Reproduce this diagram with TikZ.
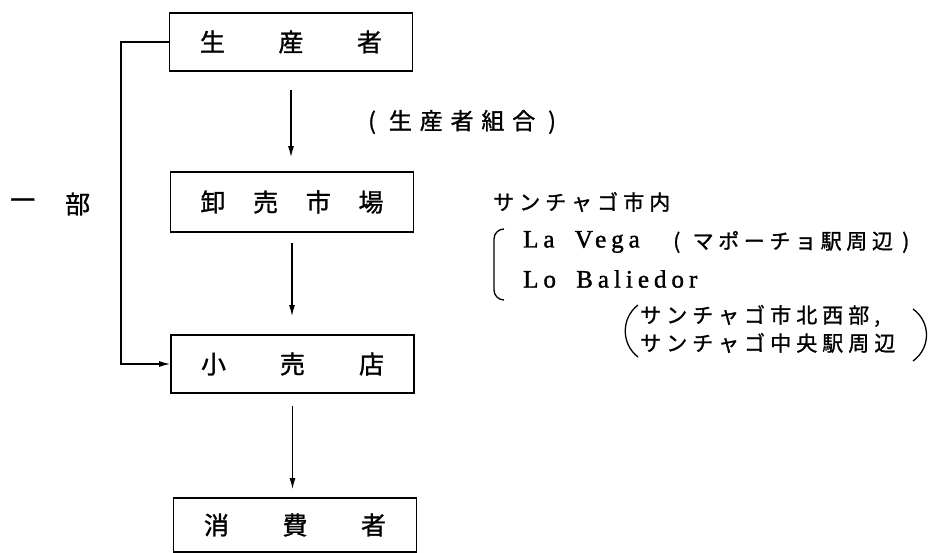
\documentclass[tikz,border=0pt]{standalone}
\usepackage{fontspec}
\usetikzlibrary{arrows.meta}
\newfontfamily\jp[FakeBold=1.2]{Noto Sans CJK JP}
\newfontfamily\jpA[FakeBold=1.2,LetterSpace=34]{Noto Sans CJK JP}
\newfontfamily\jpB[FakeBold=1.2,LetterSpace=24]{Noto Sans CJK JP}
\newfontfamily\jpC[FakeBold=1.2,LetterSpace=22]{Noto Sans CJK JP}
\newfontfamily\latn[FakeBold=1.5,LetterSpace=20]{Liberation Serif}
\begin{document}
\begin{tikzpicture}[x=1pt,y=-1pt,
  box/.style={draw, line width=1.6pt, inner sep=0pt, minimum width=243pt,
    minimum height=58pt, font=\jp\fontsize{25}{25}\selectfont},
  flow/.style={line width=1.3pt, -{Latex[length=11pt,width=6pt]}},
  lbl/.style={inner sep=0pt, anchor=west},
  brk/.style={line width=1.3pt}]
\useasboundingbox (0,0) rectangle (930,553);
% boxes
\node[box] (b1) at (291,42) {\makebox[182pt]{生\hfill 産\hfill 者}};
\node[box, minimum height=60pt] (b2) at (292,202) {\makebox[183pt]{卸\hfill 売\hfill 市\hfill 場}};
\node[box] (b3) at (292.5,364) {\makebox[183pt]{小\hfill 売\hfill 店}};
\node[box, minimum height=54pt] (b4) at (295,525) {\makebox[182pt]{消\hfill 費\hfill 者}};
% vertical arrows
\draw[flow] ([yshift=-18pt]b1.south) -- ([yshift=14pt]b2.north -| b1.south);
\draw[flow] ([yshift=-10pt]b2.south) -- ([yshift=18pt]b3.north -| b2.south);
\draw[flow] ([yshift=-12pt]b3.south) -- ([yshift=8pt]b4.north -| b3.south);
% bypass
\coordinate (L) at (121,0);
\draw[flow] (b1.west) -- (b1.west -| L) |- (b3.west);
% labels
\node[lbl, font=\jpA\fontsize{23}{23}\selectfont] (kumiai) at (368,122) {( 生産者組合 )};
\node[lbl, font=\jp\fontsize{25}{25}\selectfont] (ichi) at (10,204) {一};
\node[lbl, font=\jp\fontsize{25}{25}\selectfont] (bu) at (65,204) {部};
\node[lbl, font=\jpB\fontsize{21}{21}\selectfont] (city) at (493,202) {サンチャゴ市内};
\node[lbl, font=\latn\fontsize{25}{25}\selectfont] (vega) at (523,242) {La\hspace{9pt} Vega};
\node[lbl, font=\jpC\fontsize{21}{21}\selectfont] (mapo) at (673,242) {(\hspace{3pt} マポーチョ駅周辺 )};
\node[lbl, font=\latn\fontsize{25}{25}\selectfont] (bal) at (523,279) {Lo\hspace{9pt} Baliedor};
\node[lbl, font=\jpB\fontsize{21}{21}\selectfont] (nw) at (640,316) {サンチャゴ市北西部,};
\node[lbl, font=\jpB\fontsize{21}{21}\selectfont] (cen) at (640,343) {サンチャゴ中央駅周辺};
% bracket
\draw[brk] (504,229) to[out=180,in=90] (494,239) -- (494,290) to[out=-90,in=180] (504,300);
% big parentheses
\draw[brk] (638,305) .. controls (621,318) and (621,344) .. (638,357);
\draw[brk] (913,309) .. controls (931,322) and (931,348) .. (913,361);
\end{tikzpicture}
\end{document}
